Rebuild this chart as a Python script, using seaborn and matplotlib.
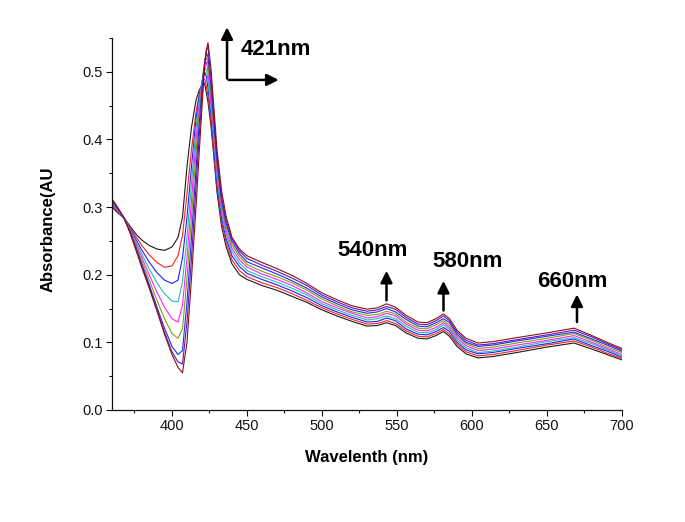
import pandas as pd
import matplotlib.pyplot as plt
import seaborn as sns

# wavelength grid (nm)
wl = [360, 364, 368, 372, 376, 380, 385, 390, 395, 400, 404, 407, 410, 413,
      416, 418, 420, 421, 422, 423, 424, 426, 428, 430, 433, 436, 440, 445,
      450, 460, 470, 480, 490, 500, 510, 520, 530, 537, 543, 549, 556, 564,
      570, 576, 581, 585, 590, 596, 604, 614, 630, 650, 668, 680, 690, 700]

# absorbance of each spectrum
black = [0.300, 0.291, 0.284, 0.272, 0.260, 0.251, 0.243, 0.238, 0.236, 0.241, 0.255, 0.285, 0.360, 0.418,
         0.458, 0.472, 0.480, 0.485, 0.480, 0.468, 0.455, 0.420, 0.372, 0.322, 0.272, 0.242, 0.216, 0.200,
         0.193, 0.184, 0.177, 0.168, 0.159, 0.148, 0.139, 0.131, 0.124, 0.125, 0.129, 0.125, 0.114, 0.106,
         0.105, 0.110, 0.116, 0.109, 0.094, 0.083, 0.077, 0.079, 0.085, 0.093, 0.099, 0.090, 0.082, 0.074]
red = [0.302, 0.292, 0.284, 0.270, 0.256, 0.243, 0.229, 0.218, 0.211, 0.213, 0.228, 0.258, 0.320, 0.385,
       0.440, 0.465, 0.482, 0.489, 0.488, 0.478, 0.463, 0.428, 0.378, 0.328, 0.278, 0.248, 0.222, 0.206,
       0.197, 0.188, 0.181, 0.172, 0.162, 0.151, 0.142, 0.134, 0.127, 0.128, 0.132, 0.128, 0.117, 0.109,
       0.108, 0.113, 0.119, 0.112, 0.097, 0.086, 0.080, 0.082, 0.088, 0.096, 0.102, 0.093, 0.084, 0.076]
blue = [0.304, 0.293, 0.284, 0.268, 0.252, 0.236, 0.218, 0.203, 0.192, 0.187, 0.192, 0.225, 0.285, 0.360,
        0.430, 0.462, 0.485, 0.494, 0.499, 0.492, 0.476, 0.437, 0.386, 0.336, 0.285, 0.254, 0.228, 0.212,
        0.202, 0.193, 0.185, 0.176, 0.166, 0.154, 0.145, 0.137, 0.130, 0.131, 0.136, 0.132, 0.120, 0.112,
        0.111, 0.116, 0.122, 0.116, 0.100, 0.089, 0.083, 0.085, 0.091, 0.098, 0.105, 0.095, 0.087, 0.078]
teal = [0.305, 0.294, 0.284, 0.267, 0.249, 0.230, 0.208, 0.188, 0.172, 0.161, 0.160, 0.190, 0.255, 0.335,
        0.415, 0.455, 0.485, 0.498, 0.506, 0.502, 0.488, 0.447, 0.395, 0.344, 0.292, 0.260, 0.234, 0.217,
        0.206, 0.197, 0.189, 0.180, 0.170, 0.157, 0.148, 0.140, 0.133, 0.135, 0.139, 0.135, 0.124, 0.115,
        0.114, 0.119, 0.126, 0.119, 0.103, 0.092, 0.085, 0.087, 0.093, 0.101, 0.107, 0.098, 0.089, 0.080]
magenta = [0.306, 0.295, 0.284, 0.266, 0.246, 0.225, 0.199, 0.174, 0.152, 0.135, 0.130, 0.155, 0.225, 0.310,
           0.398, 0.447, 0.484, 0.500, 0.511, 0.514, 0.500, 0.457, 0.404, 0.352, 0.298, 0.266, 0.239, 0.222,
           0.211, 0.201, 0.193, 0.184, 0.173, 0.160, 0.151, 0.143, 0.136, 0.138, 0.143, 0.139, 0.127, 0.118,
           0.117, 0.122, 0.129, 0.122, 0.106, 0.095, 0.088, 0.090, 0.096, 0.103, 0.110, 0.100, 0.091, 0.082]
olive = [0.307, 0.296, 0.284, 0.265, 0.243, 0.220, 0.191, 0.162, 0.135, 0.113, 0.106, 0.120, 0.195, 0.285,
         0.380, 0.437, 0.482, 0.502, 0.515, 0.521, 0.511, 0.467, 0.413, 0.360, 0.304, 0.271, 0.244, 0.227,
         0.215, 0.205, 0.197, 0.188, 0.177, 0.164, 0.154, 0.145, 0.140, 0.141, 0.146, 0.142, 0.130, 0.121,
         0.120, 0.126, 0.132, 0.125, 0.109, 0.098, 0.091, 0.093, 0.099, 0.106, 0.113, 0.103, 0.093, 0.085]
blue2 = [0.309, 0.297, 0.284, 0.264, 0.240, 0.215, 0.184, 0.152, 0.121, 0.094, 0.082, 0.088, 0.160, 0.255,
         0.355, 0.420, 0.475, 0.500, 0.518, 0.528, 0.522, 0.478, 0.422, 0.368, 0.310, 0.276, 0.249, 0.231,
         0.219, 0.210, 0.201, 0.191, 0.180, 0.167, 0.157, 0.148, 0.143, 0.145, 0.150, 0.145, 0.134, 0.124,
         0.123, 0.129, 0.135, 0.129, 0.112, 0.100, 0.094, 0.096, 0.102, 0.109, 0.115, 0.105, 0.096, 0.087]
purple = [0.311, 0.298, 0.284, 0.263, 0.238, 0.212, 0.181, 0.148, 0.115, 0.086, 0.071, 0.068, 0.130, 0.225,
          0.330, 0.400, 0.463, 0.494, 0.518, 0.533, 0.536, 0.490, 0.432, 0.376, 0.316, 0.281, 0.253, 0.235,
          0.224, 0.214, 0.205, 0.195, 0.184, 0.170, 0.160, 0.151, 0.146, 0.148, 0.153, 0.149, 0.137, 0.127,
          0.126, 0.132, 0.139, 0.132, 0.115, 0.103, 0.096, 0.098, 0.104, 0.111, 0.118, 0.108, 0.098, 0.089]
brown = [0.312, 0.299, 0.284, 0.262, 0.236, 0.210, 0.179, 0.146, 0.112, 0.082, 0.063, 0.055, 0.100, 0.195,
         0.300, 0.375, 0.448, 0.483, 0.512, 0.533, 0.543, 0.505, 0.445, 0.385, 0.325, 0.287, 0.255, 0.238,
         0.228, 0.218, 0.209, 0.199, 0.187, 0.173, 0.163, 0.154, 0.149, 0.151, 0.157, 0.152, 0.140, 0.130,
         0.129, 0.135, 0.142, 0.135, 0.118, 0.106, 0.099, 0.101, 0.107, 0.114, 0.121, 0.110, 0.100, 0.091]

spectra = {'black': black, 'red': red, 'blue': blue, 'teal': teal, 'magenta': magenta,
           'olive': olive, 'blue2': blue2, 'purple': purple, 'brown': brown}
colors = {'black': '#1a1a1a', 'red': '#ff2020', 'blue': '#2020ff', 'teal': '#20c0b0',
          'magenta': '#ff20ff', 'olive': '#8a9a10', 'blue2': '#2030e0', 'purple': '#6010c0',
          'brown': '#8a1010'}

# peak labels and arrows
labels = ['540nm', '580nm', '660nm']
label_x = [534, 597, 667]
label_y = [0.236, 0.219, 0.190]
arrow_x = [543, 581, 670]
arrow_y0 = [0.158, 0.143, 0.126]
arrow_y1 = [0.210, 0.195, 0.175]

rows = []
for name, vals in spectra.items():
    for w, a in zip(wl, vals):
        rows.append({'Wavelength': w, 'Absorbance': a, 'spectrum': name})
df = pd.DataFrame(rows)

sns.set_style('ticks')
plt.rcParams['font.family'] = ['Liberation Sans', 'DejaVu Sans']
plt.rcParams['text.color'] = 'black'
plt.rcParams['axes.labelcolor'] = 'black'

fig = plt.figure(figsize=(6.85, 5.22), dpi=100)
ax = fig.add_axes([0.1635, 0.2146, 0.7445, 0.7126])
sns.lineplot(data=df, x='Wavelength', y='Absorbance', hue='spectrum', palette=colors,
             estimator=None, sort=False, linewidth=0.8, legend=False, ax=ax)

ax.set_xlim(360, 700)
ax.set_ylim(0, 0.55)
ax.set_xticks([400, 450, 500, 550, 600, 650, 700])
ax.set_xticks([375, 425, 475, 525, 575, 625, 675], minor=True)
ax.set_yticks([0.0, 0.1, 0.2, 0.3, 0.4, 0.5])
ax.set_yticks([0.05, 0.15, 0.25, 0.35, 0.45, 0.55], minor=True)
ax.set_yticklabels(['0.0', '0.1', '0.2', '0.3', '0.4', '0.5'])
ax.tick_params(which='major', direction='out', length=4, width=0.8, labelsize=10.5,
               colors='#111111', pad=2.5)
ax.tick_params(which='minor', direction='out', length=2.5, width=0.8, colors='#111111')
for s in ['left', 'bottom']:
    ax.spines[s].set_linewidth(0.9)
    ax.spines[s].set_color('#111111')
sns.despine(ax=ax)

ax.set_xlabel('Wavelenth (nm)', fontsize=12, fontweight='bold', labelpad=12)
ax.set_ylabel('Absorbance(AU', fontsize=12, fontweight='bold')
ax.yaxis.set_label_coords(-0.11, 0.485)

arrow_style = dict(arrowstyle='-|>,head_width=0.35,head_length=0.7', color='black', lw=1.8)
for t, tx, ty, ax_x, y0, y1 in zip(labels, label_x, label_y, arrow_x, arrow_y0, arrow_y1):
    ax.text(tx, ty, t, fontsize=16, fontweight='bold', ha='center', va='center')
    ax.annotate('', xy=(ax_x, y1), xytext=(ax_x, y0), arrowprops=arrow_style)

# 421nm corner arrow
ax.annotate('', xy=(436.7, 0.570), xytext=(436.7, 0.486), arrowprops=arrow_style,
            annotation_clip=False)
ax.annotate('', xy=(473, 0.488), xytext=(435.9, 0.488), arrowprops=arrow_style,
            annotation_clip=False)
ax.text(446, 0.533, '421nm', fontsize=16, fontweight='bold', ha='left', va='center')

fig.savefig('out.png', dpi=100)
